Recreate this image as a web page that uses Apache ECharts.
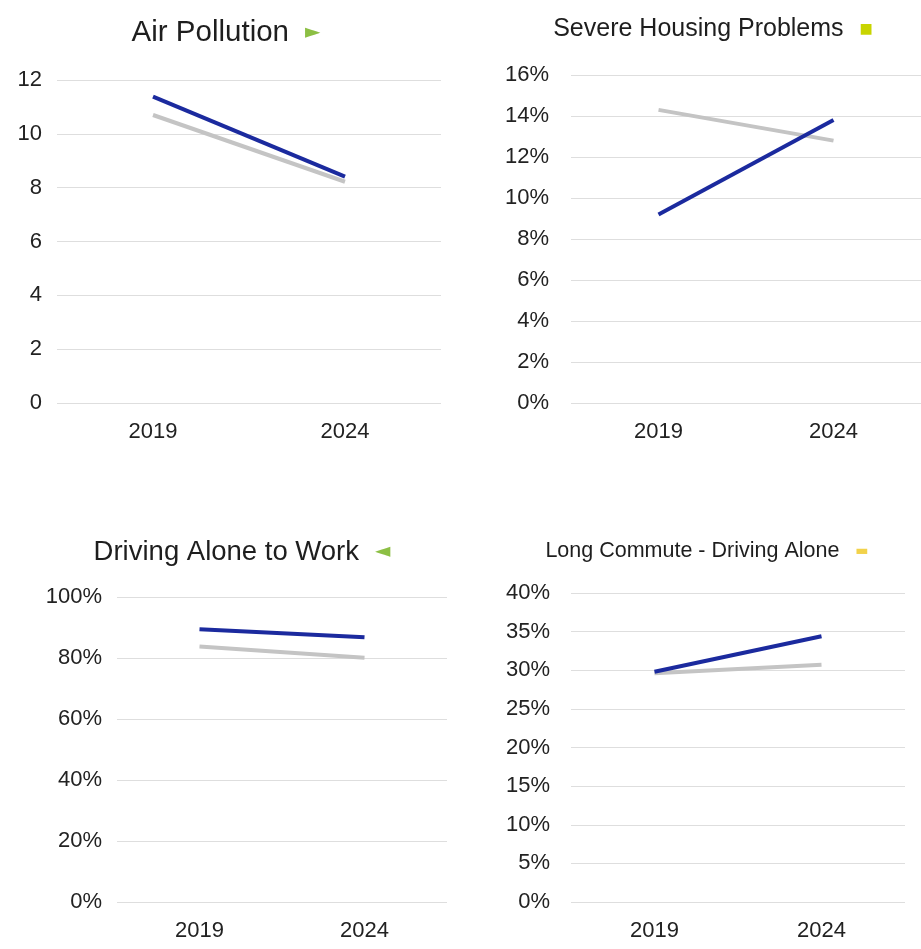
<!DOCTYPE html>
<html>
<head>
<meta charset="utf-8">
<script src="https://cdn.jsdelivr.net/npm/echarts@6/dist/echarts.min.js"></script>
<style>
  html, body { margin: 0; padding: 0; background: #fff; }
  #main { width: 921px; height: 949px; }
</style>
</head>
<body>
<div id="main"></div>
<script>
// categories (years)
var years = ['2019', '2024'];

// Air Pollution (particulate matter)
var airCounty = [11.38, 8.41];
var airState = [10.7, 8.22];

// Severe Housing Problems (%)
var housingCounty = [9.2, 13.8];
var housingState = [14.3, 12.8];

// Driving Alone to Work (%)
var drivingCounty = [89.4, 86.8];
var drivingState = [83.8, 80.1];

// Long Commute - Driving Alone (%)
var commuteCounty = [29.8, 34.4];
var commuteState = [29.6, 30.7];

var blue = '#1b2a9e';
var gray = '#c4c4c4';
var font = '"Liberation Sans", Arial, sans-serif';

var chart = echarts.init(document.getElementById('main'));

function makeTitle(text, icon, iconColor, iconSize, size, cx, top) {
  return {
    text: '{t|' + text + '}{i|' + icon + '}',
    left: cx,
    top: top,
    textAlign: 'center',
    padding: 0,
    textStyle: {
      fontWeight: 'normal',
      rich: {
        t: { fontFamily: font, fontSize: size, fontWeight: 'normal', color: '#1e1e1e' },
        i: { fontFamily: 'DejaVu Sans', fontSize: iconSize, fontWeight: 'normal', color: iconColor, padding: [0, 0, 0, 16] }
      }
    }
  };
}

function xAx(idx) {
  return {
    gridIndex: idx, type: 'category', data: years, boundaryGap: true,
    axisLine: { show: false }, axisTick: { show: false },
    axisLabel: { fontFamily: font, fontSize: 22, color: '#222', margin: 18 }
  };
}

function yAx(idx, max, step, pct, margin) {
  return {
    gridIndex: idx, type: 'value', min: 0, max: max, interval: step,
    axisLine: { show: false }, axisTick: { show: false },
    splitLine: { lineStyle: { color: '#dedede', width: 1 } },
    axisLabel: {
      fontFamily: font, fontSize: 22, color: '#222', margin: margin,
      formatter: pct ? '{value}%' : '{value}'
    }
  };
}

function line(idx, data, color, z) {
  return {
    type: 'line', xAxisIndex: idx, yAxisIndex: idx, data: data,
    showSymbol: false, symbol: 'none', z: z, silent: true,
    lineStyle: { color: color, width: 4 }
  };
}

chart.setOption({
  animation: false,
  backgroundColor: '#fff',
  title: [
    makeTitle('Air Pollution', '►', '#8cbf44', 20, 29.5, 226, 18),
    makeTitle('Severe Housing Problems', '■', '#c8d400', 14, 25, 713, 17),
    makeTitle('Driving Alone to Work', '◄', '#8cbf44', 20, 27.5, 242, 538),
    makeTitle('Long Commute - Driving Alone', '▬', '#f2d24a', 14, 21.5, 707, 540)
  ],
  grid: [
    { left: 57, top: 80, width: 384, height: 323 },
    { left: 571, top: 75, width: 352, height: 328 },
    { left: 117, top: 597, width: 330, height: 305 },
    { left: 571, top: 593, width: 334, height: 309 }
  ],
  xAxis: [xAx(0), xAx(1), xAx(2), xAx(3)],
  yAxis: [
    yAx(0, 12, 2, false, 15),
    yAx(1, 16, 2, true, 22),
    yAx(2, 100, 20, true, 15),
    yAx(3, 40, 5, true, 21)
  ],
  series: [
    line(0, airState, gray, 2), line(0, airCounty, blue, 3),
    line(1, housingState, gray, 2), line(1, housingCounty, blue, 3),
    line(2, drivingState, gray, 2), line(2, drivingCounty, blue, 3),
    line(3, commuteState, gray, 2), line(3, commuteCounty, blue, 3)
  ]
});
</script>
</body>
</html>
